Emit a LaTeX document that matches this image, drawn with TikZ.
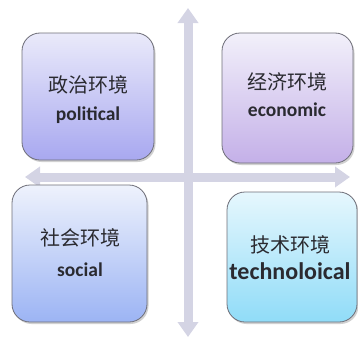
\documentclass[tikz,border=0pt]{standalone}
\usepackage{fontspec}
\setmainfont{Carlito}
\newfontfamily\cjk{Noto Sans CJK SC}
\usetikzlibrary{arrows.meta,shadows}
\definecolor{axiscol}{HTML}{D4D4E4}
\definecolor{bordercol}{HTML}{6E6E78}
\definecolor{atop}{HTML}{EAEAFA}\definecolor{abot}{HTML}{A8A8F0}
\definecolor{btop}{HTML}{F2F0FA}\definecolor{bbot}{HTML}{C4B0E8}
\definecolor{ctop}{HTML}{EEF2FC}\definecolor{cbot}{HTML}{9CB4F4}
\definecolor{dtop}{HTML}{E6F7FD}\definecolor{dbot}{HTML}{90DCF8}
\definecolor{txt}{HTML}{2A2A30}
\tikzset{
  quad/.style={draw=bordercol, line width=0.8pt, rounded corners=18pt,
    inner sep=0pt, outer sep=0pt,
    drop shadow={shadow xshift=1.5pt, shadow yshift=-2pt, opacity=0.3, fill=black!60}},
  axis/.style={draw=axiscol, line width=9pt, -{Triangle[width=20pt,length=15pt]}},
  zh/.style={font=\cjk\fontsize{20}{22}\selectfont, text=txt, inner sep=0pt},
  en/.style={font=\bfseries\fontsize{19.5}{22}\selectfont, text=txt, inner sep=0pt},
}
\begin{document}
\begin{tikzpicture}[x=1pt,y=-1pt]
\useasboundingbox (0,0) rectangle (358,340);
% axes
\coordinate (top) at (188,8);
\coordinate (bot) at (188,337);
\coordinate (lft) at (25,177);
\coordinate (rgt) at (350,177);
\coordinate (ctr) at (188,177);
\draw[axis] (ctr) -- (top);
\draw[axis] (ctr) -- (bot);
\draw[axis] (ctr) -- (lft);
\draw[axis] (ctr) -- (rgt);
% boxes
\node[quad, top color=atop, bottom color=abot, minimum width=132pt, minimum height=127pt] (pol) at (88,96.5) {};
\node[quad, top color=btop, bottom color=bbot, minimum width=131pt, minimum height=130pt] (eco) at (287.5,98) {};
\node[quad, top color=ctop, bottom color=cbot, minimum width=135pt, minimum height=137pt] (soc) at (79.5,253.5) {};
\node[quad, top color=dtop, bottom color=dbot, minimum width=130pt, minimum height=130pt] (tec) at (292,257) {};
% texts
\node[zh] (polzh) at (88,85) {政治环境};
\node[en] (polen) at (88,115) {political};
\node[zh] (ecozh) at (287,82) {经济环境};
\node[en] (ecoen) at (287,110) {economic};
\node[zh] (soczh) at (80,238) {社会环境};
\node[en] (socen) at (80,270) {social};
\node[zh] (teczh) at (290,245) {技术环境};
\node[en, font=\bfseries\fontsize{24}{26}\selectfont] (tecen) at (290,271) {technoloical};
\end{tikzpicture}
\end{document}
